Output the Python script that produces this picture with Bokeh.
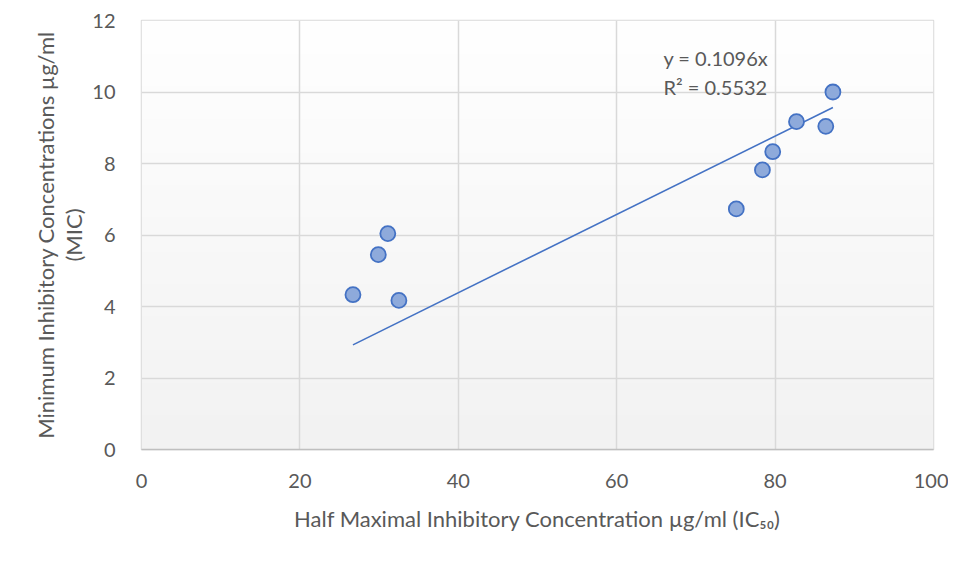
import numpy as np
from bokeh.plotting import figure
from bokeh.models import Label, Range1d, FixedTicker
from bokeh.embed import file_html
from bokeh.resources import INLINE

# data
ic50 = [26.7, 29.9, 31.1, 32.5, 75.1, 78.4, 79.7, 82.7, 86.4, 87.3]
mic = [4.33, 5.45, 6.04, 4.17, 6.73, 7.82, 8.33, 9.17, 9.04, 10.0]
slope = 0.1096
r2 = 0.5532
x_ticks = [0, 20, 40, 60, 80, 100]
y_ticks = [0, 2, 4, 6, 8, 10, 12]

FONT = "Lato"
GREY_TXT = "#595959"

p = figure(width=948, height=569, output_backend="svg", toolbar_location=None,
           x_range=Range1d(0, 100), y_range=Range1d(0, 12),
           min_border_left=141, min_border_right=15, min_border_top=20, min_border_bottom=120)
p.background_fill_color = "white"
p.border_fill_color = "white"
p.outline_line_color = "#d9d9d9"
p.outline_line_width = 1.5

# gradient plot area background
N = 200
g = np.linspace(242, 255, N).astype(np.uint8)
img = np.zeros((N, 1, 4), dtype=np.uint8)
img[:, 0, 0] = g
img[:, 0, 1] = g
img[:, 0, 2] = g
img[:, 0, 3] = 255
img32 = img.view(dtype=np.uint32).reshape((N, 1))
p.image_rgba(image=[img32], x=x_ticks[0], y=y_ticks[0], dw=x_ticks[-1] - x_ticks[0],
             dh=y_ticks[-1] - y_ticks[0], level="image")

# grids
p.xgrid.ticker = FixedTicker(ticks=x_ticks)
p.ygrid.ticker = FixedTicker(ticks=y_ticks)
for gr in (p.xgrid, p.ygrid):
    gr.grid_line_color = "#d9d9d9"
    gr.grid_line_width = 1.5

# axes
p.xaxis.ticker = FixedTicker(ticks=x_ticks)
p.yaxis.ticker = FixedTicker(ticks=y_ticks)
for ax in (p.xaxis, p.yaxis):
    ax.major_tick_line_color = None
    ax.minor_tick_line_color = None
    ax.major_label_text_font = FONT
    ax.major_label_text_font_size = "20px"
    ax.major_label_text_color = GREY_TXT
    ax.axis_label_text_font = FONT
    ax.axis_label_text_font_size = "22px"
    ax.axis_label_text_color = GREY_TXT
    ax.axis_label_text_font_style = "normal"
p.xaxis.axis_line_color = "#bfbfbf"
p.xaxis.axis_line_width = 1.5
p.yaxis.axis_line_color = None
p.xaxis.major_label_standoff = 18
p.yaxis.major_label_standoff = 20
p.xaxis.axis_label = "Half Maximal Inhibitory Concentration µg/ml (IC₅₀)"
p.xaxis.axis_label_standoff = 14
p.yaxis.axis_label = "Minimum Inhibitory Concentrations µg/ml\n(MIC)"
p.yaxis.axis_label_standoff = 2
p.yaxis.axis_label_text_line_height = 1.05

# trendline through origin
xt = [min(ic50), max(ic50)]
yt = [slope * v for v in xt]
p.line(xt, yt, line_color="#4472c4", line_width=1.6)

# points
p.scatter(ic50, mic, size=15, fill_color="#8eaadb", line_color="#4472c4", line_width=1.8)

# equation
p.add_layout(Label(x=65.9, y=10.94, text="y = %.4fx" % slope, text_font=FONT,
                   text_font_size="20px", text_color=GREY_TXT, text_baseline="middle"))
p.add_layout(Label(x=65.9, y=10.13, text="R² = %.4f" % r2, text_font=FONT,
                   text_font_size="20px", text_color=GREY_TXT, text_baseline="middle"))

open("out.html", "w").write(file_html(p, INLINE))
